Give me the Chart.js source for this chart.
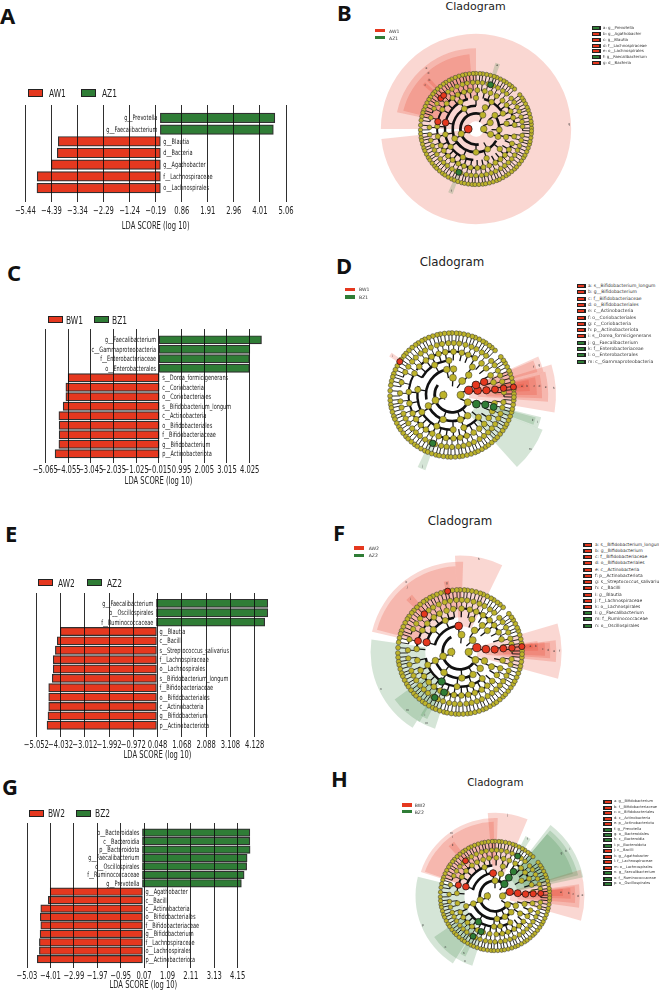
<!DOCTYPE html>
<html lang="en">
<head>
<meta charset="UTF-8">
<title>LEfSe panels</title>
<script src="https://cdn.jsdelivr.net/npm/chart.js@4.4.0/dist/chart.umd.min.js"></script>
<style>
  html, body { margin: 0; padding: 0; background: #fff; }
  body { position: relative; width: 659px; height: 992px; overflow: hidden; }
  canvas { position: absolute; }
  .t { position: absolute; white-space: nowrap; line-height: 1; }
  .letter { font: bold 22px "Noto Sans", sans-serif; color: #111; }
  .title { font-family: "DejaVu Sans", sans-serif; color: #222; transform: translate(-50%, -50%); }
  .leg { font: 11px "DejaVu Sans", sans-serif; color: #222; transform-origin: left center; transform: translateY(-50%) scaleX(.68); }
  .cleg { font: 4.6px "DejaVu Sans", sans-serif; color: #333; transform: translateY(-50%); }
  .key { font-family: "DejaVu Sans", sans-serif; color: #333; transform: translateY(-50%); }
  .sw { position: absolute; box-sizing: border-box; }
</style>
</head>
<body>
<script>
const RED = '#E5381F', GREEN = '#2F7D36', OLIVE = '#BDB32A';

// ---- LDA bars ----
const namesA = ['g__Prevotella','g__Faecalibacterium','g__Blautia','d__Bacteria','g__Agathobacter','f__Lachnospiraceae','o__Lachnospirales'];
const valuesA = [4.61,4.55,-4.11,-4.15,-4.39,-4.96,-4.97];
const ticksA = [-5.44,-4.39,-3.34,-2.29,-1.24,-0.19,0.86,1.91,2.96,4.01,5.06];

const namesC = ['g__Faecalibacterium','c__Gammaproteobacteria','f__Enterobacteriaceae','o__Enterobacterales','s__Dorea_formicigenerans','c__Coriobacteria','o__Coriobacteriales','s__Bifidobacterium_longum','c__Actinobacteria','o__Bifidobacteriales','f__Bifidobacteriaceae','g__Bifidobacterium','p__Actinobacteriota'];
const valuesC = [4.55,4.03,4.01,4.01,-4.05,-4.15,-4.15,-4.27,-4.46,-4.45,-4.45,-4.46,-4.63];
const ticksC = [-5.065,-4.055,-3.045,-2.035,-1.025,-0.015,0.995,2.005,3.015,4.025];

const namesE = ['g__Faecalibacterium','o__Oscillospirales','f__Ruminococcaceae','g__Blautia','c__Bacilli','s__Streptococcus_salivarius','f__Lachnospiraceae','o__Lachnospirales','s__Bifidobacterium_longum','f__Bifidobacteriaceae','o__Bifidobacteriales','c__Actinobacteria','g__Bifidobacterium','p__Actinobacteriota'];
const valuesE = [4.68,4.68,4.55,-4.04,-4.17,-4.25,-4.34,-4.34,-4.38,-4.53,-4.53,-4.53,-4.56,-4.60];
const ticksE = [-5.052,-4.032,-3.012,-1.992,-0.972,0.048,1.068,2.088,3.108,4.128];

const namesG = ['o__Bacteroidales','c__Bacteroidia','p__Bacteroidota','g__Faecalibacterium','o__Oscillospirales','f__Ruminococcaceae','g__Prevotella','g__Agathobacter','c__Bacilli','c__Actinobacteria','o__Bifidobacteriales','f__Bifidobacteriaceae','g__Bifidobacterium','f__Lachnospiraceae','o__Lachnospirales','p__Actinobacteriota'];
const valuesG = [4.68,4.68,4.69,4.56,4.54,4.43,4.31,-4.02,-4.10,-4.43,-4.45,-4.43,-4.46,-4.49,-4.49,-4.58];
const ticksG = [-5.03,-4.01,-2.99,-1.97,-0.95,0.07,1.09,2.11,3.13,4.15];

// ---- cladogram tree, read as angles (degrees) per taxonomic ring ----
const ringRadius = [0,1,2,3,4,5,6,7.15];
const ringF = [6,17,27,38,47,58,68,77,88,99,108,118,127,139,150,176,191,205,214,224,233,243,252,262,272,281,290,300,309,318,328,338,349];
const ringG = [3,9,15,22,28,35,41,49,55,62,68,75,82,88,94,101,107,114,121,127,134,140,147,154,166,178,187,194,201,207,213,220,226,232,239,245,251,258,264,270,277,283,289,295,302,308,314,320,326,333,339,346,352];
const ringS = [1,5,8,12,16,20,23,27,31,34,38,46,50,53,57,60,64,68,71,75,79,83,86,90,93,97,101,104,108,112,116,119,123,126,130,134,138,141,145,148,152,156,160,163,167,171,176,181,185,189,192,196,200,203,207,211,214,218,222,225,229,233,236,240,244,247,251,255,258,262,266,269,273,277,280,284,288,292,295,299,303,306,310,314,317,321,325,329,332,336,340,344,347,351,355,358];

const ring1B = [180,0], ring2B = [198,64,24,-20];
const ring3B = [204,120,67,36,-2,-19,270,300];
const ring4B = [168,190,215,245,120,90,60,30,10,-15,-40,290];
const arcsB = [[1,150,215],[2,64,280],[3,90,230],[3,215,330],[3,-25,40],[4,105,175],[4,175,265],[4,35,75],[5,130,240],[5,240,285],[5,100,130],[5,300,340],[5,10,40]];
const redB = [[1,180],[4,168.2],[5,169.2],[6,138.9],[6,133.9]];
const greenB = [[6,71.7],[6,248.3]];
// clade shading: from ring, start angle, end angle, outer reach, colour key, letter
const cladesB = [[1,186,540,12.25,'r','g'],[4,90,168,10.4,'r','e'],[5,95,166,9.65,'r','d'],[6,137.4,140.4,8.9,'r','c'],[6,132.4,135.4,8.9,'r','b'],[6,69.7,73.7,8.9,'g','a'],[6,246.3,250.3,8.9,'g','f']];

const ring1D = [180,0], ring2D = [198,87,54,15.8,-24.6];
const ring3D = [204.7,101.7,86.6,50,23,10,-20,-53,-71,250];
const ring4D = [171,209.6,244,272,290,-40,54,120,95,22,8,-16];
const arcsD = [[1,150,215],[2,145,325],[3,100,190],[3,205,300],[4,100,150],[4,165,275],[4,285,320],[5,150,240],[5,110,145],[5,60,105],[5,250,290]];
const redD = [[2,15.8],[3,10],[4,7.8],[5,7.4],[6,7.5],[7,7.4],[3,22.8],[4,22.2],[7,147.4]];
const greenD = [[3,-20.4],[4,-16.2],[5,-16],[6,248.2]];
const cladesD = [[2,-9.7,17,12,'r','h'],[3,-4,14,11.1,'r','e'],[3,14,24,10.9,'r','g'],[4,15,23,10.2,'r','f'],[4,-2,13,10.4,'r','d'],[5,0,12,9.8,'r','c'],[6,3,11,9,'r','b'],[7,6,9,8.4,'r','a'],[7,145,148.5,8.5,'r','i'],[3,-48,-21,11.2,'g','m'],[4,-21,-14,10.6,'g','l'],[5,-20,-15,10,'g','k'],[6,244.5,250.5,9.2,'g','j']];

const ring1F = [180,0], ring2F = [194,85,43,14.5,-27];
const ring3F = [199.3,93,56,6.2,-20,-39,-60,-86,232];
const ring4F = [163.8,201.8,238,265,290,310,-25,38,50,70,115,140];
const arcsF = [[1,150,215],[2,120,320],[3,95,165],[3,195,300],[4,100,170],[4,190,310],[5,120,175],[5,200,250],[5,30,90],[5,255,310]];
const redF = [[2,14.5],[3,6.2],[4,4.2],[5,4.6],[6,4.5],[7,5],[3,93],[7,101.5],[6,133.2],[5,165.3],[4,163.8]];
const greenF = [[4,238.2],[5,248.5],[6,241]];
const cladesF = [[2,-15.3,16.3,11.7,'r','f'],[3,-6,7,11.1,'r','e'],[4,-4,6,10.4,'r','d'],[5,-2.5,6.5,9.8,'r','c'],[6,1,8,9,'r','b'],[7,3,7,8.4,'r','a'],[3,64,93,11.1,'r','h'],[4,88,167,10.4,'r','k'],[5,93,165,9.9,'r','j'],[6,130,136,8.6,'r','i'],[7,99,103,8.3,'r','g'],[4,172,238,10.3,'g','n'],[5,216,240,9.3,'g','m'],[5,238,252,9.3,'g','m'],[6,238,244,8.6,'g','l']];

const ring1H = [180,0], ring2H = [194.6,90,52,15.5,-34.7];
const ring3H = [199.4,94.8,75,53,7,-25,-45,-64.5,-85];
const ring4H = [162,199.4,237,268,-80,-60,-35,-15,3.6,30,52.8,110,75];
const arcsH = [[1,150,215],[2,52,325],[3,90,165],[3,195,315],[4,95,165],[4,215,300],[5,130,165],[5,205,250],[5,30,60],[5,270,320]];
const redH = [[2,15.5],[3,7],[4,3.6],[5,3.3],[6,3.2],[3,94.8],[6,130],[5,163.5],[4,162.3]];
const greenH = [[2,52],[3,53],[4,52.8],[6,60.4],[4,237.3],[5,248.6],[6,241.5]];
const cladesH = [[2,-16,17,11.7,'r','e'],[3,-8,8,11.1,'r','d'],[4,-5,7,10.5,'r','c'],[5,-2,6,9.9,'r','b'],[6,0,6,8.9,'r','a'],[3,67,95,10.9,'r','j'],[4,88,162,10.2,'r','m'],[5,91,161,9.7,'r','l'],[6,127,133,8.9,'r','k'],[2,12,52,11.8,'g','i'],[3,14,50,11.2,'g','h'],[4,16,50,10.6,'g','g'],[6,58,63,8.8,'g','f'],[4,166,238,10.4,'g','p'],[5,214,238,9.6,'g','o'],[5,238,252,9.6,'g','o'],[6,239,244,8.8,'g','n']];

// ---- side keys ----
const keyB = ['a: g__Prevotella','b: g__Agathobacter','c: g__Blautia','d: f__Lachnospiraceae','e: o__Lachnospirales','f: g__Faecalibacterium','g: d__Bacteria'];
const keyBcol = 'grrrrgr';
const keyD = ['a: s__Bifidobacterium_longum','b: g__Bifidobacterium','c: f__Bifidobacteriaceae','d: o__Bifidobacteriales','e: c__Actinobacteria','f: o__Coriobacteriales','g: c__Coriobacteria','h: p__Actinobacteriota','i: s__Dorea_formicigenerans','j: g__Faecalibacterium','k: f__Enterobacteriaceae','l: o__Enterobacterales','m: c__Gammaproteobacteria'];
const keyDcol = 'rrrrrrrrrgggg';
const keyF = ['a: s__Bifidobacterium_longum','b: g__Bifidobacterium','c: f__Bifidobacteriaceae','d: o__Bifidobacteriales','e: c__Actinobacteria','f: p__Actinobacteriota','g: s__Streptococcus_salivarius','h: c__Bacilli','i: g__Blautia','j: f__Lachnospiraceae','k: o__Lachnospirales','l: g__Faecalibacterium','m: f__Ruminococcaceae','n: o__Oscillospirales'];
const keyFcol = 'rrrrrrrrrrrggg';
const keyH = ['a: g__Bifidobacterium','b: f__Bifidobacteriaceae','c: o__Bifidobacteriales','d: c__Actinobacteria','e: p__Actinobacteriota','f: g__Prevotella','g: o__Bacteroidales','h: c__Bacteroidia','i: p__Bacteroidota','j: c__Bacilli','k: g__Agathobacter','l: f__Lachnospiraceae','m: o__Lachnospirales','n: g__Faecalibacterium','o: f__Ruminococcaceae','p: o__Oscillospirales'];
const keyHcol = 'rrrrrggggrrrrggg';

function addText(cls, text, x, y, size) {
  const d = document.createElement('div');
  d.className = 't ' + cls;
  d.textContent = text;
  d.style.left = x + 'px';
  d.style.top = y + 'px';
  if (size) d.style.fontSize = size + 'px';
  document.body.appendChild(d);
}
function addBox(x, y, w, h, bg, border) {
  const d = document.createElement('div');
  d.className = 'sw';
  d.style.cssText = `left:${x}px;top:${y}px;width:${w}px;height:${h}px;background:${bg};` + (border ? `border:${border};` : '');
  document.body.appendChild(d);
}
function addCanvas(x, y, w, h) {
  const c = document.createElement('canvas');
  c.width = w; c.height = h;
  c.style.left = x + 'px'; c.style.top = y + 'px';
  document.body.appendChild(c);
  return c;
}

// the source figure is squashed sideways, so its text is drawn narrowed too
function narrowText(ctx, text, x, y, align) {
  ctx.save();
  ctx.translate(x, y);
  ctx.scale(0.68, 1);
  ctx.textAlign = align;
  ctx.fillText(text, 0, 0);
  ctx.restore();
}

const barLabels = {
  id: 'barLabels',
  afterDraw(chart) {
    const { ctx, scales: { x, y } } = chart;
    const ds = chart.data.datasets[0];
    const o = chart.options.plugins.barLabels;
    ctx.save();
    ctx.fillStyle = '#222';
    ctx.textBaseline = 'middle';
    ctx.font = '7.4px "DejaVu Sans", sans-serif';
    ds.data.forEach((d, i) => {
      narrowText(ctx, ds.names[i], x.getPixelForValue(0) + (d.x > 0 ? -3 : 3), y.getPixelForValue(i) + 0.5, d.x > 0 ? 'right' : 'left');
    });
    ctx.font = '10px "DejaVu Sans", sans-serif';
    const bottom = chart.chartArea.bottom;
    o.ticks.forEach(v => {
      const s = (v < 0 ? '\u2212' : '') + Math.abs(v).toFixed(o.dec);
      narrowText(ctx, s, x.getPixelForValue(v), bottom + o.tickGap, 'center');
    });
    narrowText(ctx, 'LDA SCORE (log 10)', (x.getPixelForValue(o.ticks[0]) + x.getPixelForValue(o.ticks[o.ticks.length - 1])) / 2 + o.titleShift, bottom + o.titleGap, 'center');
    ctx.restore();
  }
};

function barPanel(o) {
  const top = o.lineTop - 6, h = o.lineBottom - top + 30;
  const c = addCanvas(0, top, 330, h);
  new Chart(c, {
    type: 'bar',
    plugins: [barLabels],
    data: {
      datasets: [{
        names: o.names,
        data: o.values.map((v, i) => ({ x: v, y: i })),
        backgroundColor: o.values.map(v => v > 0 ? GREEN : RED),
        borderColor: 'rgba(25,25,25,.9)',
        borderWidth: 1.2,
        borderSkipped: false,
        barThickness: o.barH
      }]
    },
    options: {
      indexAxis: 'y',
      responsive: false,
      animation: false,
      layout: { padding: { left: o.left, right: 330 - o.right, top: 6, bottom: 30 } },
      plugins: {
        legend: { display: false }, tooltip: { enabled: false },
        barLabels: { ticks: o.ticks, dec: o.dec, tickGap: o.tickGap, titleGap: o.titleGap, titleShift: o.titleShift }
      },
      scales: {
        y: { type: 'linear', offset: false, reverse: true, display: false, min: o.yMin, max: o.yMax, grid: { display: false } },
        x: {
          type: 'linear', min: o.xMin, max: o.xMax,
          afterBuildTicks: s => { s.ticks = o.ticks.map(v => ({ value: v })); },
          afterFit: s => { s.height = 0; },
          grid: { z: 1, color: 'rgba(10,10,10,.85)', lineWidth: 1, drawTicks: false },
          border: { display: false },
          ticks: { display: false }
        }
      }
    }
  });
}

const cladeTree = {
  id: 'cladeTree',
  beforeDatasetsDraw(chart) {
    const { ctx, scales: { x, y } } = chart;
    const o = chart.options.plugins.cladeTree;
    const cx = x.getPixelForValue(0), cy = y.getPixelForValue(0);
    const px = r => x.getPixelForValue(r) - cx;
    const rad = a => a * Math.PI / 180;
    ctx.save();
    // clade shading
    o.clades.forEach(k => {
      const r0 = px(ringRadius[k[0]]), r1 = px(k[3]);
      ctx.fillStyle = k[4] === 'r' ? 'rgba(229,56,31,.2)' : 'rgba(47,125,54,.2)';
      ctx.beginPath();
      ctx.arc(cx, cy, r1, -rad(k[2]), -rad(k[1]));
      ctx.arc(cx, cy, r0, -rad(k[1]), -rad(k[2]), true);
      ctx.closePath();
      ctx.fill();
    });
    // white hub in the middle
    ctx.fillStyle = '#fff';
    ctx.beginPath(); ctx.arc(cx, cy, px(0.75), 0, 7); ctx.fill();
    // branches
    ctx.strokeStyle = '#111';
    ctx.lineCap = 'butt';
    const arcWidth = [0, 0.8, 2.8, 2.6, 2.4, 2, 1.1];
    o.arcs.forEach(a => {
      ctx.lineWidth = arcWidth[a[0]];
      ctx.beginPath();
      ctx.arc(cx, cy, px(ringRadius[a[0]]), -rad(a[2]), -rad(a[1]));
      ctx.stroke();
    });
    // outer rings: every node hangs from the closest node one ring in
    [[o.rings[7], o.rings[6], 6], [o.rings[6], o.rings[5], 5]].forEach(([kids, parents, lv]) => {
      parents.forEach(p => {
        const ds = [];
        kids.forEach(k => {
          let best = null, bd = 999;
          parents.forEach(q => {
            const d = ((k - q + 540) % 360) - 180;
            if (Math.abs(d) < bd) { bd = Math.abs(d); best = q; }
          });
          if (best === p) ds.push(((k - p + 540) % 360) - 180);
        });
        if (!ds.length) return;
        ctx.lineWidth = 1.2;
        ctx.beginPath();
        ctx.arc(cx, cy, px(ringRadius[lv]), -rad(p + Math.max(...ds)), -rad(p + Math.min(...ds)));
        ctx.stroke();
      });
    });
    // rungs from each node back to the ring inside it
    o.rings.forEach((angles, i) => {
      if (i < 2) return;
      ctx.lineWidth = i >= 6 ? 0.9 : 1.3;
      angles.forEach(a => {
        const c = Math.cos(rad(a)), s = Math.sin(rad(a));
        ctx.beginPath();
        ctx.moveTo(cx + px(ringRadius[i - 1]) * c, cy - px(ringRadius[i - 1]) * s);
        ctx.lineTo(cx + px(ringRadius[i]) * c, cy - px(ringRadius[i]) * s);
        ctx.stroke();
      });
    });
    ctx.restore();
  },
  afterDatasetsDraw(chart) {
    const { ctx, scales: { x, y } } = chart;
    const o = chart.options.plugins.cladeTree;
    ctx.save();
    ctx.font = '3px "DejaVu Sans", sans-serif';
    ctx.fillStyle = '#333';
    ctx.textAlign = 'center';
    ctx.textBaseline = 'middle';
    o.clades.forEach(k => {
      const a = (k[1] + k[2]) / 2 * Math.PI / 180, r = k[3] - 0.25;
      ctx.fillText(k[5], x.getPixelForValue(r * Math.cos(a)), y.getPixelForValue(r * Math.sin(a)));
    });
    ctx.restore();
  }
};

function polar(list) {
  return list.map(p => ({ x: ringRadius[p[0]] * Math.cos(p[1] * Math.PI / 180), y: ringRadius[p[0]] * Math.sin(p[1] * Math.PI / 180) }));
}

function cladoPanel(o) {
  const S = 244, half = S / 2 / o.unit;
  const c = addCanvas(o.cx - S / 2, o.cy - S / 2, S, S);
  const rings = [[], o.r1, o.r2, o.r3, o.r4, ringF, ringG, ringS];
  const sizes = [0, 3.5, 3.3, 3.1, 2.9, 2.7, 2.5, 2.3].map(s => s * o.unit / 8.5);
  const big = p => (sizes[p[0]] + 0.6);
  // Chart.js paints the first dataset last, so the coloured clades go first
  const ds = [
    { data: polar(o.red), backgroundColor: RED, borderColor: '#111', borderWidth: 0.7, pointRadius: o.red.map(big) },
    { data: polar(o.green), backgroundColor: GREEN, borderColor: '#111', borderWidth: 0.7, pointRadius: o.green.map(big) }
  ];
  rings.forEach((angles, lv) => {
    if (!lv) return;
    ds.push({
      data: polar(angles.map(a => [lv, a])),
      backgroundColor: OLIVE, borderColor: '#333', borderWidth: 0.5, pointRadius: sizes[lv]
    });
  });
  new Chart(c, {
    type: 'scatter',
    plugins: [cladeTree],
    data: { datasets: ds },
    options: {
      responsive: false,
      animation: false,
      layout: { padding: 0 },
      plugins: {
        legend: { display: false }, tooltip: { enabled: false },
        cladeTree: { clades: o.clades, arcs: o.arcs, rings: rings }
      },
      scales: {
        x: { type: 'linear', display: false, min: -half, max: half },
        y: { type: 'linear', display: false, min: -half, max: half }
      }
    }
  });
}

function keyList(names, cols, x, textX, y0, y1, size) {
  const step = (y1 - y0) / (names.length - 1);
  names.forEach((n, i) => {
    const y = y0 + i * step;
    addBox(x, y - 2, 9, 4, '#222');
    addBox(x + 1.5, y - 1, 6, 2, cols[i] === 'r' ? RED : GREEN);
    addText('key', n, textX, y, size);
  });
}
function barLegend(y, h, x1, t1, x2, t2, a, b) {
  addBox(x1, y, 15, h, RED, '1px solid #222');
  addText('leg', a, t1, y + h / 2);
  addBox(x2, y, 15, h, GREEN, '1px solid #222');
  addText('leg', b, t2, y + h / 2);
}
function cladeLegend(x, tx, y1, y2, a, b) {
  addBox(x, y1 - 1.7, 10, 3.4, RED);
  addText('cleg', a, tx, y1);
  addBox(x, y2 - 1.7, 10, 3.4, GREEN);
  addText('cleg', b, tx, y2);
}

// panel letters
[['A',0,0],['B',337,-3],['C',7,257],['D',336,250],['E',5,518],['F',333,517],['G',2,771],['H',331,763]]
  .forEach(l => addText('letter', l[0], l[1], l[2]));

// titles
addText('title', 'Cladogram', 475.7, 6, 11);
addText('title', 'Cladogram', 452, 262.7, 11.8);
addText('title', 'Cladogram', 460, 521.7, 11.8);
addText('title', 'Cladogram', 495.3, 782, 10.3);

barPanel({ names: namesA, values: valuesA, ticks: ticksA, left: 25.3, right: 286, xMin: -5.44, xMax: 5.06, lineTop: 105, lineBottom: 202, tickGap: 9, titleGap: 24, titleShift: 0, barH: 9.6, yMin: -1.1, yMax: 7.19, dec: 2 });
barPanel({ names: namesC, values: valuesC, ticks: ticksC, left: 45.3, right: 272.4, xMin: -5.065, xMax: 5.035, lineTop: 329.3, lineBottom: 463.3, tickGap: 7.7, titleGap: 18.7, titleShift: 11, barH: 8.2, yMin: -1.14, yMax: 12.98, dec: 3 });
barPanel({ names: namesE, values: valuesE, ticks: ticksE, left: 36.3, right: 278.9, xMin: -5.052, xMax: 5.148, lineTop: 592.7, lineBottom: 737, tickGap: 8, titleGap: 18, titleShift: 12, barH: 8.2, yMin: -1.1, yMax: 14.25, dec: 3 });
barPanel({ names: namesG, values: valuesG, ticks: ticksG, left: 27, right: 261.1, xMin: -5.03, xMax: 5.17, lineTop: 822.7, lineBottom: 968, tickGap: 8, titleGap: 17.7, titleShift: 11, barH: 7.6, yMin: -1.15, yMax: 16.05, dec: 2 });

barLegend(89, 8, 28, 49, 81, 102, 'AW1', 'AZ1');
barLegend(316, 7, 48, 66, 94, 112, 'BW1', 'BZ1');
barLegend(579, 7, 38, 58, 87, 107, 'AW2', 'AZ2');
barLegend(810, 6.5, 29, 48, 76, 95, 'BW2', 'BZ2');

cladoPanel({ cx: 475.7, cy: 129.3, unit: 8.08, r1: ring1B, r2: ring2B, r3: ring3B, r4: ring4B, arcs: arcsB, red: redB, green: greenB, clades: cladesB });
cladoPanel({ cx: 452.3, cy: 395, unit: 9.02, r1: ring1D, r2: ring2D, r3: ring3D, r4: ring4D, arcs: arcsD, red: redD, green: greenD, clades: cladesD });
cladoPanel({ cx: 460, cy: 651.7, unit: 9.04, r1: ring1F, r2: ring2F, r3: ring3F, r4: ring4F, arcs: arcsF, red: redF, green: greenF, clades: cladesF });
cladoPanel({ cx: 495.3, cy: 896, unit: 7.95, r1: ring1H, r2: ring2H, r3: ring3H, r4: ring4H, arcs: arcsH, red: redH, green: greenH, clades: cladesH });

cladeLegend(375, 389, 30.7, 37.7, 'AW1', 'AZ1');
cladeLegend(345, 359, 289.3, 297, 'BW1', 'BZ1');
cladeLegend(354, 368.7, 548, 555.3, 'AW2', 'AZ2');
cladeLegend(402, 414.7, 805, 811.7, 'BW2', 'BZ2');

keyList(keyB, keyBcol, 591.7, 603, 28, 63, 3.95);
keyList(keyD, keyDcol, 576.7, 588, 286, 361.7, 4.5);
keyList(keyF, keyFcol, 583, 595, 544.7, 625.7, 4.4);
keyList(keyH, keyHcol, 603, 614, 802.3, 884, 3.6);
</script>
</body>
</html>
